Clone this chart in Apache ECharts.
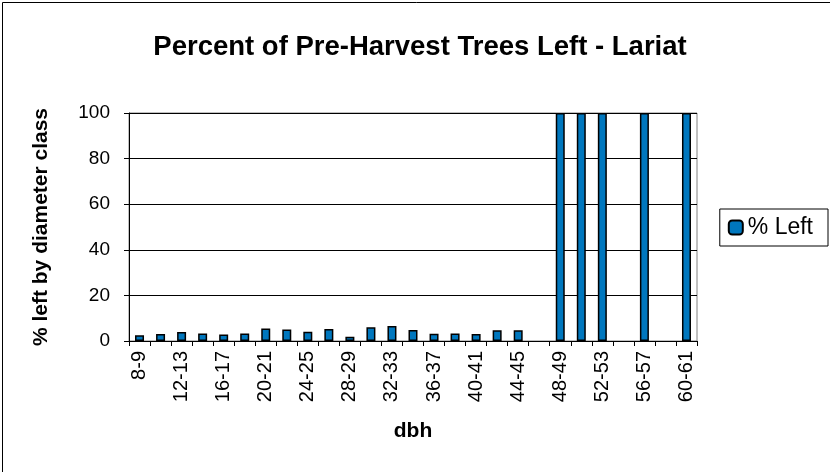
<!DOCTYPE html>
<html lang="en">
<head>
<meta charset="UTF-8">
<title>Percent of Pre-Harvest Trees Left - Lariat</title>
<style>
  html, body { margin: 0; padding: 0; background: #fff; }
  #chart { width: 830px; height: 472px; }
</style>
</head>
<body>
<div id="chart"></div>
<script src="https://cdn.jsdelivr.net/npm/echarts@6/dist/echarts.min.js"></script>
<script>
  // diameter classes (dbh)
  var categories = ['8-9', '10-11', '12-13', '14-15', '16-17', '18-19', '20-21', '22-23', '24-25',
    '26-27', '28-29', '30-31', '32-33', '34-35', '36-37', '38-39', '40-41', '42-43', '44-45',
    '46-47', '48-49', '50-51', '52-53', '54-55', '56-57', '58-59', '60-61'];
  // % left
  var pctLeft = [2.5, 3.1, 3.9, 3.3, 2.8, 3.3, 5.5, 5.0, 4.1, 5.3, 1.9, 6.0, 6.6, 4.8, 3.2,
    3.3, 3.1, 4.7, 4.7, 0, 100, 100, 100, 0, 100, 0, 100];
  var yTicks = { min: 0, max: 100, step: 20 };

  var font = '"Liberation Sans", Arial, sans-serif';
  var chart = echarts.init(document.getElementById('chart'));

  // zero bars: no outline, like the original
  var barData = pctLeft.map(function (v) {
    return v === 0 ? { value: v, itemStyle: { borderWidth: 0 } } : v;
  });

  var option = {
    backgroundColor: '#fff',
    animation: false,
    title: {
      text: 'Percent of Pre-Harvest Trees Left - Lariat',
      left: 415,
      top: 28,
      textAlign: 'center',
      textStyle: { fontFamily: font, fontSize: 27.5, fontWeight: 'bold', color: '#000' }
    },
    graphic: [{
      type: 'rect',
      shape: { x: 2.5, y: 2.5, width: 840, height: 480 },
      style: { fill: 'none', stroke: '#000', lineWidth: 1 },
      silent: true
    }],
    legend: {
      data: ['% Left'],
      right: 2,
      top: 209,
      orient: 'vertical',
      itemWidth: 14,
      itemHeight: 14,
      itemGap: 0,
      padding: [7, 15, 7, 8],
      borderColor: '#000',
      borderWidth: 1,
      textStyle: { fontFamily: font, fontSize: 23, color: '#000' },
      itemStyle: { borderColor: '#000', borderWidth: 2 }
    },
    grid: {
      left: 129,
      right: 133,
      top: 113,
      bottom: 131,
      show: true,
      borderColor: '#808080',
      borderWidth: 1
    },
    xAxis: {
      type: 'category',
      data: categories,
      name: 'dbh',
      nameLocation: 'middle',
      nameGap: 80,
      nameTextStyle: { fontFamily: font, fontSize: 21, fontWeight: 'bold', color: '#000' },
      axisLine: { lineStyle: { color: '#000', width: 1 } },
      axisTick: { show: true, interval: 0, length: 5, lineStyle: { color: '#000' } },
      axisLabel: {
        interval: 1,
        rotate: 90,
        fontFamily: font,
        fontSize: 20,
        color: '#000',
        margin: 10
      }
    },
    yAxis: {
      type: 'value',
      min: yTicks.min,
      max: yTicks.max,
      interval: yTicks.step,
      name: '% left by diameter class',
      nameLocation: 'middle',
      nameGap: 77,
      nameTextStyle: { fontFamily: font, fontSize: 21, fontWeight: 'bold', color: '#000' },
      axisLine: { show: true, lineStyle: { color: '#000', width: 1 } },
      axisTick: { show: true, length: 5, lineStyle: { color: '#000' } },
      axisLabel: { fontFamily: font, fontSize: 19, color: '#000', margin: 19 },
      splitLine: { show: true, lineStyle: { color: '#000', width: 1 } }
    },
    series: [{
      name: '% Left',
      type: 'bar',
      data: barData,
      barWidth: 9,
      itemStyle: { color: '#0077BE', borderColor: '#000', borderWidth: 1.5 }
    }]
  };
  chart.setOption(option);
</script>
</body>
</html>
